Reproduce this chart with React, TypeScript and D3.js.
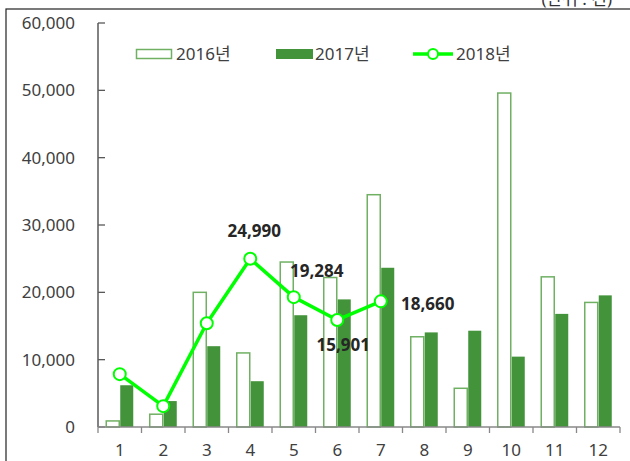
import React from "react";
import * as d3 from "d3";

const months = ["1", "2", "3", "4", "5", "6", "7", "8", "9", "10", "11", "12"];
const v2016 = [900, 1900, 20000, 11000, 24500, 22200, 34500, 13400, 5750, 49600, 22300, 18500];
const v2017 = [6200, 3850, 12000, 6800, 16600, 18950, 23650, 14050, 14300, 10450, 16800, 19550];
const v2018 = [7850, 3100, 15400, 24990, 19284, 15901, 18660];
const yTicks = [0, 10000, 20000, 30000, 40000, 50000, 60000];
const labeled = [
  { i: 3, text: "24,990", dx: 4, dy: -22 },
  { i: 4, text: "19,284", dx: 23, dy: -20 },
  { i: 5, text: "15,901", dx: 6, dy: 31 },
  { i: 6, text: "18,660", dx: 47, dy: 9 },
];

const W = 630, H = 461;
const FONT = "'Noto Sans', 'Noto Sans CJK KR', sans-serif";
const C16 = "#6fb063";
const C17 = "#43933a";
const C18 = "#00ff00";

export default function App() {
  const x = d3.scaleBand().domain(months).range([98, 620]).paddingInner(0).paddingOuter(0);
  const y = d3.scaleLinear().domain([0, 60000]).range([427, 23]);
  const bw = 13;
  const cx = (i: number) => (x(months[i]) as number) + x.bandwidth() / 2;
  const line = d3.line<number>().x((_, i) => cx(i)).y((d) => y(d));
  const fmt = d3.format(",");
  const boundaries = months.map((m) => x(m) as number).concat([620]);

  return (
    <svg width={W} height={H} style={{ position: "absolute", left: 0, top: 0, background: "#fff" }} fontFamily={FONT}>
      <rect x={6} y={9} width={700} height={500} fill="none" stroke="#222" strokeWidth={1.2} />
      <text x={612} y={5} textAnchor="end" fontSize={17} fill="#333">(단위 : 건)</text>

      {/* y axis */}
      <line x1={98} x2={98} y1={y(60000)} y2={427} stroke="#595959" strokeWidth={1.5} />
      {yTicks.map((t) => (
        <g key={t}>
          <line x1={98} x2={105} y1={y(t)} y2={y(t)} stroke="#595959" strokeWidth={1.3} />
          <text x={75} y={y(t) + 6} textAnchor="end" fontSize={17} fill="#404040">{fmt(t)}</text>
        </g>
      ))}

      {/* bars */}
      {months.map((m, i) => (
        <g key={m}>
          <rect x={cx(i) - bw - 0.5} y={y(v2016[i])} width={bw} height={427 - y(v2016[i])} fill="#fff" stroke={C16} strokeWidth={1.5} />
          <rect x={cx(i) + 0.5} y={y(v2017[i])} width={bw} height={427 - y(v2017[i])} fill={C17} />
        </g>
      ))}

      {/* x axis */}
      <line x1={98} x2={620} y1={427} y2={427} stroke="#888" strokeWidth={1.5} />
      {boundaries.map((b, i) => (
        <line key={i} x1={b} x2={b} y1={427} y2={433} stroke="#888" strokeWidth={1.3} />
      ))}
      {months.map((m, i) => (
        <text key={m} x={cx(i)} y={456} textAnchor="middle" fontSize={17} fill="#404040">{m}</text>
      ))}

      {/* 2018 line */}
      <path d={line(v2018) || ""} fill="none" stroke={C18} strokeWidth={3.5} strokeLinejoin="round" />
      {v2018.map((v, i) => (
        <circle key={i} cx={cx(i)} cy={y(v)} r={6} fill="#fff" stroke={C18} strokeWidth={2} />
      ))}
      {labeled.map((l) => (
        <text key={l.i} x={cx(l.i) + l.dx} y={y(v2018[l.i]) + l.dy} textAnchor="middle" fontSize={17} fontWeight="bold" fill="#262626">{l.text}</text>
      ))}

      {/* legend */}
      <rect x={136.5} y={49.5} width={35} height={9} fill="#fff" stroke={C16} strokeWidth={1.5} />
      <text x={176} y={60} fontSize={17} fill="#404040">2016년</text>
      <rect x={276} y={49} width={37} height={10} fill={C17} />
      <text x={315} y={60} fontSize={17} fill="#404040">2017년</text>
      <line x1={413} x2={453} y1={54} y2={54} stroke={C18} strokeWidth={3.5} />
      <circle cx={433} cy={54} r={5} fill="#fff" stroke={C18} strokeWidth={2} />
      <text x={456} y={60} fontSize={17} fill="#404040">2018년</text>
    </svg>
  );
}
